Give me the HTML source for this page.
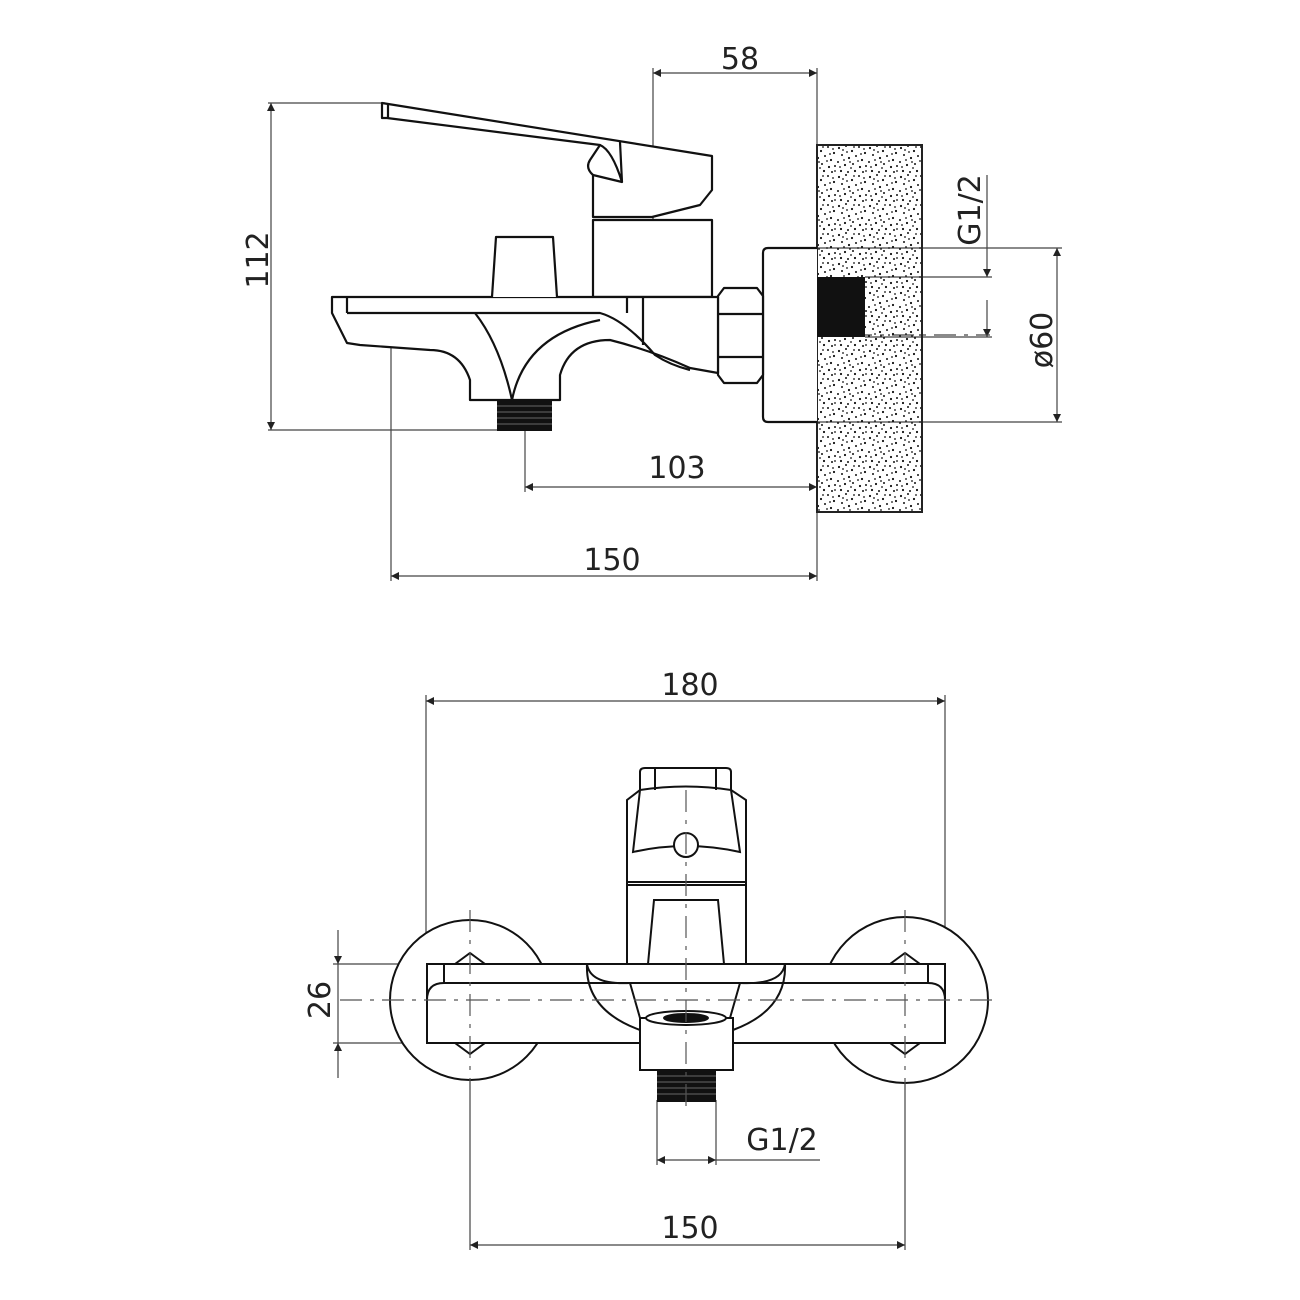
<!DOCTYPE html>
<html><head><meta charset="utf-8"><style>
html,body{margin:0;padding:0;background:#fff}
svg{display:block}
text{font-family:"DejaVu Sans","Liberation Sans",sans-serif;fill:#222;font-size:30px}
</style></head><body>
<svg width="1300" height="1300" viewBox="0 0 1300 1300" xmlns="http://www.w3.org/2000/svg">
<defs>
<pattern id="st" width="31" height="29" patternUnits="userSpaceOnUse">
<g fill="#111">
<circle cx="2" cy="3" r="1.1"/><circle cx="9" cy="1" r="1"/><circle cx="15" cy="6" r="1.1"/><circle cx="22" cy="2" r="1"/><circle cx="28" cy="8" r="1.1"/>
<circle cx="5" cy="10" r="1"/><circle cx="12" cy="13" r="1.1"/><circle cx="19" cy="11" r="1"/><circle cx="25" cy="15" r="1.1"/><circle cx="1" cy="17" r="1"/>
<circle cx="8" cy="20" r="1.1"/><circle cx="16" cy="19" r="1"/><circle cx="23" cy="22" r="1.1"/><circle cx="29" cy="21" r="1"/><circle cx="4" cy="26" r="1.1"/>
<circle cx="11" cy="27" r="1"/><circle cx="18" cy="26" r="1.1"/><circle cx="26" cy="27" r="1"/><circle cx="14" cy="23" r="0.9"/><circle cx="21" cy="16" r="0.9"/>
<circle cx="7" cy="15" r="0.9"/><circle cx="27" cy="4" r="0.9"/><circle cx="3" cy="22" r="0.9"/><circle cx="10" cy="7" r="0.9"/>
<circle cx="17" cy="2" r="0.9"/><circle cx="24" cy="9" r="0.9"/><circle cx="13" cy="17" r="0.9"/><circle cx="29" cy="26" r="0.9"/><circle cx="6" cy="5" r="0.9"/>
</g></pattern>
<marker id="a" viewBox="0 0 10 10" refX="10" refY="5" markerWidth="14" markerHeight="8" markerUnits="userSpaceOnUse" orient="auto-start-reverse"><path d="M0,0 L10,5 L0,10 z" fill="#222"/></marker>
</defs>

<g stroke="#444" stroke-width="1.2" fill="none">
<line x1="653" y1="68" x2="653" y2="340"/>
<line x1="817" y1="68" x2="817" y2="145"/>
<line x1="653" y1="73" x2="817" y2="73" marker-start="url(#a)" marker-end="url(#a)"/>
<line x1="268" y1="103" x2="385" y2="103"/>
<line x1="268" y1="430" x2="525" y2="430"/>
<line x1="271" y1="103" x2="271" y2="430" marker-start="url(#a)" marker-end="url(#a)"/>
<line x1="525" y1="420" x2="525" y2="492"/>
<line x1="525" y1="487" x2="817" y2="487" marker-start="url(#a)" marker-end="url(#a)"/>
<line x1="391" y1="340" x2="391" y2="581"/>
<line x1="817" y1="512" x2="817" y2="581"/>
<line x1="391" y1="576" x2="817" y2="576" marker-start="url(#a)" marker-end="url(#a)"/>
<line x1="817" y1="248" x2="1062" y2="248"/>
<line x1="817" y1="422" x2="1062" y2="422"/>
<line x1="1057" y1="248" x2="1057" y2="422" marker-start="url(#a)" marker-end="url(#a)"/>
<line x1="865" y1="277" x2="992" y2="277"/>
<line x1="865" y1="337" x2="992" y2="337"/>
<line x1="987" y1="175" x2="987" y2="277" marker-end="url(#a)"/>
<line x1="987" y1="300" x2="987" y2="337" marker-end="url(#a)"/>
<line x1="640" y1="335" x2="990" y2="335" stroke-dasharray="22 8 4 8"/>
<line x1="512" y1="255" x2="512" y2="335" stroke-dasharray="22 8 4 8"/>
<line x1="653" y1="170" x2="653" y2="330" stroke-dasharray="22 8 4 8"/>
</g>

<rect x="817" y="145" width="105" height="367" fill="url(#st)" stroke="#222" stroke-width="2"/>
<rect x="817" y="277" width="48" height="60" fill="#111"/>

<g stroke="#111" stroke-width="2.2" fill="#fff" stroke-linejoin="round">
<path d="M817,248 H768 Q763,248 763,253 V417 Q763,422 768,422 H817"/>
<path d="M724,288 H757 L763,296 V375 L757,383 H724 L718,375 V296 Z"/>
<path d="M718,314 H763 M718,357 H763" fill="none"/>
<rect x="593" y="220" width="119" height="77"/>
<path d="M382,103 L712,156 V190 L700,205 L652,217 H593 V175 Q585,168 590,160 L600,145 L387,118 L382,118 Z"/>
<path d="M388,104 V118 M593,175 L622,182 L620,142 M600,145 Q612,150 622,182" fill="none"/>
<path d="M332,297 H718 V373 L690,368 Q650,350 610,340 Q570,340 560,375 V400 H470 V380 Q460,350 430,350 L360,345 L347,343 L332,313 Z"/>
<path d="M347,313 H600 Q625,320 655,355 Q670,365 690,370 M347,297 V313 M627,297 V313 M643,297 V345" fill="none"/>
<path d="M475,313 Q500,345 512,400 Q525,335 600,320" fill="none"/>
<path d="M492,297 L496,237 H553 L557,297"/>
</g>
<rect x="497" y="400" width="55" height="31" fill="#111"/>
<g stroke="#666" stroke-width="1"><line x1="497" y1="406" x2="552" y2="406"/><line x1="497" y1="412" x2="552" y2="412"/><line x1="497" y1="418" x2="552" y2="418"/><line x1="497" y1="424" x2="552" y2="424"/></g>

<text x="740" y="69" text-anchor="middle">58</text>
<text x="677" y="478" text-anchor="middle">103</text>
<text x="612" y="570" text-anchor="middle">150</text>
<text transform="translate(268,260) rotate(-90)" text-anchor="middle">112</text>
<text transform="translate(980,210) rotate(-90)" text-anchor="middle">G1/2</text>
<text transform="translate(1052,340) rotate(-90)" text-anchor="middle">ø60</text>

<g stroke="#444" stroke-width="1.2" fill="none">
<line x1="426" y1="695" x2="426" y2="964"/>
<line x1="945" y1="695" x2="945" y2="964"/>
<line x1="426" y1="701" x2="945" y2="701" marker-start="url(#a)" marker-end="url(#a)"/>
<line x1="333" y1="964" x2="427" y2="964"/>
<line x1="333" y1="1043" x2="427" y2="1043"/>
<line x1="338" y1="930" x2="338" y2="964" marker-end="url(#a)"/>
<line x1="338" y1="1078" x2="338" y2="1043" marker-end="url(#a)"/>
<line x1="338" y1="964" x2="338" y2="1043"/>
<line x1="470" y1="1080" x2="470" y2="1250"/>
<line x1="905" y1="1080" x2="905" y2="1250"/>
<line x1="470" y1="1245" x2="905" y2="1245" marker-start="url(#a)" marker-end="url(#a)"/>
<line x1="657" y1="1100" x2="657" y2="1165"/>
<line x1="716" y1="1100" x2="716" y2="1165"/>
<line x1="657" y1="1160" x2="716" y2="1160" marker-start="url(#a)" marker-end="url(#a)"/>
<line x1="716" y1="1160" x2="820" y2="1160"/>
</g>

<g stroke="#111" stroke-width="2" fill="#fff">
<circle cx="470" cy="1000" r="80"/>
<circle cx="905" cy="1000" r="83"/>
<rect x="627" y="885" width="119" height="80"/>
<path d="M627,885 V800 L640,790 V772 Q640,768 645,768 H726 Q731,768 731,772 V790 L746,800 V885 Z"/>
<path d="M640,790 Q686,783 731,790 M640,790 L633,852 Q686,840 740,852 L731,790 M655,768 V790 M716,768 V790 M627,882 H746" fill="none"/>
<circle cx="686" cy="845" r="12"/>
<rect x="427" y="964" width="518" height="79"/>
<path d="M444,964 V983 H928 V964" fill="none"/>
<path d="M427,1000 Q427,983 444,983" fill="none"/>
<path d="M945,1000 Q945,983 928,983" fill="none"/>
<path d="M654,900 H718 L724,964 H648 Z"/>
<path d="M587,964 Q585,1010 640,1030 M785,964 Q787,1010 733,1030" fill="none"/>
<path d="M587,964 Q590,985 630,983 M785,964 Q782,985 740,983" fill="none"/>
<path d="M630,983 H740 L730,1018 H640 Z"/>
<rect x="640" y="1018" width="93" height="52"/>
<ellipse cx="686" cy="1018" rx="40" ry="7"/>
<ellipse cx="686" cy="1018" rx="22" ry="4" fill="#111"/>
<path d="M455,964 L470,953 L485,964 M455,1043 L470,1054 L485,1043 M890,964 L905,953 L920,964 M890,1043 L905,1054 L920,1043" fill="none"/>
</g>
<rect x="657" y="1070" width="59" height="32" fill="#111"/>
<g stroke="#666" stroke-width="1"><line x1="657" y1="1076" x2="716" y2="1076"/><line x1="657" y1="1082" x2="716" y2="1082"/><line x1="657" y1="1088" x2="716" y2="1088"/><line x1="657" y1="1094" x2="716" y2="1094"/></g>

<g stroke="#555" stroke-width="1.2" fill="none" stroke-dasharray="22 8 4 8">
<line x1="340" y1="1000" x2="995" y2="1000"/>
<line x1="686" y1="790" x2="686" y2="1112"/>
<line x1="470" y1="910" x2="470" y2="1090"/>
<line x1="905" y1="910" x2="905" y2="1090"/>
</g>

<text x="690" y="695" text-anchor="middle">180</text>
<text x="690" y="1238" text-anchor="middle">150</text>
<text x="782" y="1150" text-anchor="middle">G1/2</text>
<text transform="translate(330,1000) rotate(-90)" text-anchor="middle">26</text>
</svg>
</body></html>
